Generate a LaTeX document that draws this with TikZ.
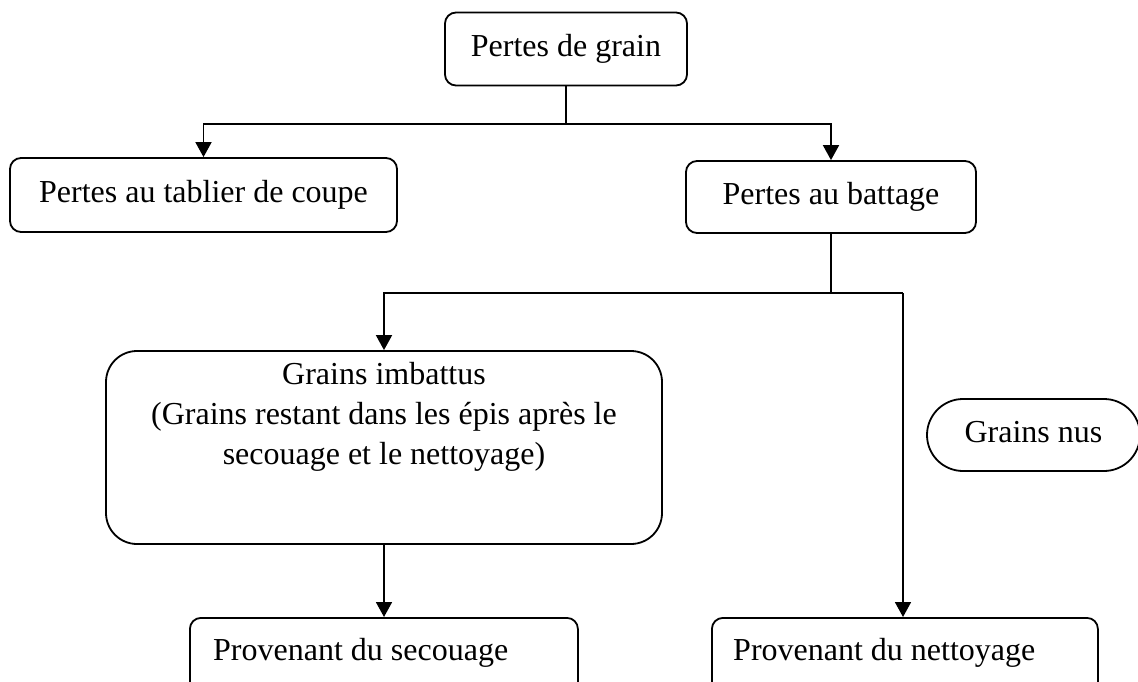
\documentclass[tikz,border=0pt]{standalone}
\usepackage{fontspec}
\setmainfont{Liberation Serif}
\usetikzlibrary{arrows.meta,calc}
\begin{document}
\begin{tikzpicture}[x=1pt,y=-1pt,
  txt/.style={font=\fontsize{32}{40}\selectfont},
  box/.style={draw, line width=1.8pt, rounded corners=11pt, inner sep=0pt, txt, text height=22pt, text depth=7pt},
  conn/.style={line width=1.8pt},
  arr/.style={conn, -{Triangle[length=15pt,width=16pt]}}]
\clip (0,0) rectangle (1138,682);
% nodes
\node[box, minimum width=242, minimum height=73] (top) at (566,49) {Pertes de grain};
\node[box, minimum width=387, minimum height=74] (tab) at (203.5,195) {Pertes au tablier de coupe};
\node[box, minimum width=290, minimum height=72] (bat) at (831,197) {Pertes au battage};
\node[box, rounded corners=31pt, minimum width=556, minimum height=193] (imb) at (384,447.5) {};
\node[txt, align=center, anchor=north, inner sep=0pt] (imbtxt) at (384,362)
  {Grains imbattus\\ (Grains restant dans les épis après le\\ secouage et le nettoyage)};
\node[box, rounded corners=36pt, minimum width=213, minimum height=72] (nus) at (1033.5,435) {Grains nus};
\node[box, minimum width=388, minimum height=110, anchor=north west] (sec) at (189,617) {};
\node[txt, anchor=base west, inner sep=0pt] (sectxt) at (213,660) {Provenant du secouage};
\node[box, minimum width=386, minimum height=110, anchor=north west] (net) at (711,617) {};
\node[txt, anchor=base west, inner sep=0pt] (nettxt) at (733,660) {Provenant du nettoyage};
% connectors
\coordinate (j1) at (566,124);
\draw[conn] (top.south) -- (j1);
\draw[arr] (j1) -| (tab.north);
\draw[arr] (j1) -| (bat.north);
\coordinate (j2) at (831,293);
\coordinate (j3) at (903,293);
\draw[conn] (bat.south) -- (j2) -- (j3);
\draw[arr] (j2) -| (imb.north);
\draw[arr] (j3) -- (j3 |- net.north);
\draw[arr] (imb.south) -- (imb.south |- sec.north);
\end{tikzpicture}
\end{document}
